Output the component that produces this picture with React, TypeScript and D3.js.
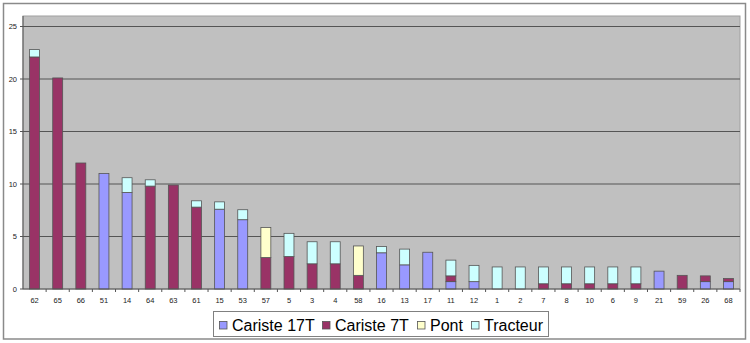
import React from "react";
import * as d3 from "d3";

const categories = ["62","65","66","51","14","64","63","61","15","53","57","5","3","4","58","16","13","17","11","12","1","2","7","8","10","6","9","21","59","26","68"];
const cariste17T = [0,0,0,11.0,9.2,0,0,0,7.6,6.6,0,0,0,0,0,3.45,2.3,3.5,0.7,0.7,0,0,0,0,0,0,0,1.7,0,0.7,0.7];
const cariste7T = [22.1,20.1,12.0,0,0,9.8,9.9,7.8,0,0,3.0,3.1,2.4,2.4,1.3,0,0,0,0.55,0,0,0,0.5,0.5,0.5,0.5,0.5,0,1.3,0.55,0.3];
const pont = [0,0,0,0,0,0,0,0,0,0,2.85,0,0,0,2.8,0,0,0,0,0,0,0,0,0,0,0,0,0,0,0,0];
const tracteur = [0.7,0,0,0,1.4,0.6,0,0.6,0.7,0.95,0,2.2,2.1,2.1,0,0.6,1.5,0,1.5,1.55,2.1,2.1,1.6,1.6,1.6,1.6,1.6,0,0,0,0];
const seriesNames = ["Cariste 17T","Cariste 7T","Pont","Tracteur"];
const seriesColors = ["#9999FF","#993366","#FFFFCC","#CCFFFF"];
const yTicks = [0,5,10,15,20,25];

export default function App() {
  const W = 750, H = 343;
  const left = 23, right = 740, top = 16, bottom = 289;
  const x = d3.scaleBand<string>().domain(categories).range([left, right]).paddingInner(0.57).paddingOuter(0.285);
  const y = d3.scaleLinear().domain([0, 26]).range([bottom, top]);
  const seriesData = [cariste17T, cariste7T, pont, tracteur];
  const rows = categories.map((c, i) => ({ cat: c, s0: cariste17T[i], s1: cariste7T[i], s2: pont[i], s3: tracteur[i] }));
  const stacked = d3.stack<any>().keys(["s0","s1","s2","s3"])(rows);
  const step = x.step();
  const font = "'Liberation Sans', Arial, sans-serif";

  const legendItems = seriesNames.map((n, i) => ({ n, c: seriesColors[i] }));
  const legX = 213, legY = 311, legH = 25, legW = 335;
  const legendPos = [219, 322, 417, 471];

  return (
    <svg width={W} height={H} style={{ position: "absolute", left: 0, top: 0, background: "#fff" }}>
      <rect x={3.5} y={3.5} width={742} height={335.5} fill="#fff" stroke="#8a8a8a" strokeWidth={1.5} />
      <rect x={left} y={top} width={right - left} height={bottom - top} fill="#C0C0C0" stroke="#a0a0a0" strokeWidth={1} />
      {yTicks.filter(t => t > 0).map(t => (
        <line key={"g" + t} x1={left} x2={right} y1={y(t)} y2={y(t)} stroke="#555" strokeWidth={1} />
      ))}
      {stacked.map((layer, si) => (
        <g key={si}>
          {layer.map((d, i) => {
            const v = seriesData[si][i];
            if (!v) return null;
            return (
              <rect key={i} x={x(categories[i])!} width={x.bandwidth()} y={y(d[1])} height={y(d[0]) - y(d[1])}
                fill={seriesColors[si]} stroke="#555" strokeWidth={0.8} />
            );
          })}
        </g>
      ))}
      <line x1={left} x2={left} y1={top} y2={bottom} stroke="#555" />
      <line x1={left} x2={right} y1={bottom} y2={bottom} stroke="#555" />
      {yTicks.map(t => (
        <g key={"yt" + t}>
          <line x1={left - 3} x2={left} y1={y(t)} y2={y(t)} stroke="#555" />
          <text x={left - 6} y={y(t)} dy="0.35em" textAnchor="end" fontSize={7.5} fontFamily={font} fill="#222">{t}</text>
        </g>
      ))}
      {categories.map((c, i) => (
        <g key={"xt" + c}>
          <line x1={left + step * (i + 1)} x2={left + step * (i + 1)} y1={bottom} y2={bottom + 3} stroke="#555" />
          <text x={x(c)! + x.bandwidth() / 2} y={bottom + 11} dy="0.35em" textAnchor="middle" fontSize={7.5} fontFamily={font} fill="#222">{c}</text>
        </g>
      ))}
      <rect x={legX + 0.5} y={legY + 0.5} width={legW} height={legH} fill="#fff" stroke="#808080" strokeWidth={1} />
      {legendItems.map((it, i) => (
        <g key={"l" + i}>
          <rect x={legendPos[i] + 0.5} y={legY + 10.5} width={7.5} height={7.5} fill={it.c} stroke="#555" strokeWidth={0.8} />
          <text x={legendPos[i] + 13} y={legY + 20} fontSize={16} fontFamily={font} fill="#000">{it.n}</text>
        </g>
      ))}
    </svg>
  );
}
